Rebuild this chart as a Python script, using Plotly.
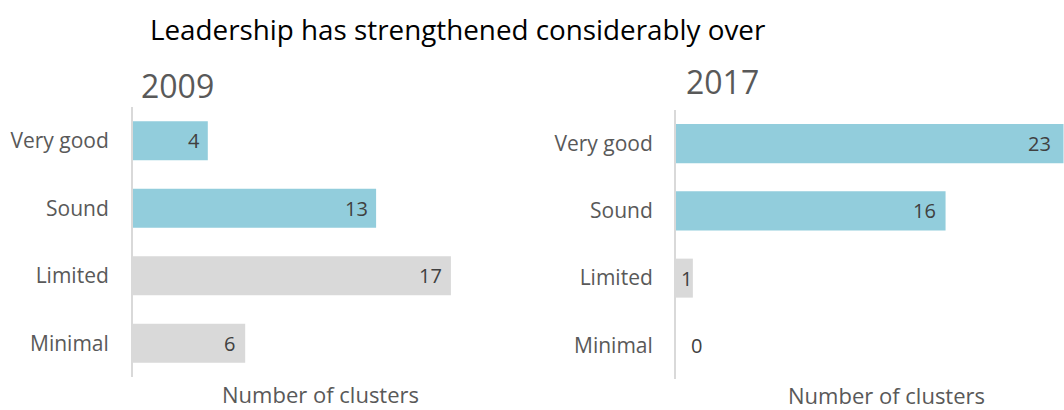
import plotly.graph_objects as go

# Leadership ratings per cluster, two survey years
categories = ["Very good", "Sound", "Limited", "Minimal"]
counts_2009 = [4, 13, 17, 6]
counts_2017 = [23, 16, 1, 0]
years = ["2009", "2017"]
axis_title = "Number of clusters"
chart_title = "Leadership has strengthened considerably over"

BLUE = "#92CDDC"
GREY = "#D9D9D9"
bar_colors = [BLUE, BLUE, GREY, GREY]
FONT = "Open Sans"
W, H = 1064, 410


def px_x(p):
    return p / W


def px_y(p):
    return 1 - p / H


fig = go.Figure()

fig.add_trace(go.Bar(
    x=counts_2009, y=categories, orientation="h",
    marker=dict(color=bar_colors, line=dict(width=0)),
    xaxis="x", yaxis="y", hoverinfo="skip", showlegend=False,
))
fig.add_trace(go.Bar(
    x=counts_2017, y=categories, orientation="h",
    marker=dict(color=bar_colors, line=dict(width=0)),
    xaxis="x2", yaxis="y2", hoverinfo="skip", showlegend=False,
))

yaxis_common = dict(
    categoryorder="array", categoryarray=categories, autorange="reversed",
    showline=True, linecolor="#D9D9D9", linewidth=2,
    showgrid=False, zeroline=False, ticks="",
    tickfont=dict(family=FONT, size=21, color="#595959"),
    fixedrange=True,
)
xaxis_common = dict(
    showgrid=False, zeroline=False, showline=False,
    showticklabels=False, ticks="", fixedrange=True,
)

fig.update_layout(
    width=W, height=H,
    margin=dict(l=0, r=0, t=0, b=0),
    paper_bgcolor="white", plot_bgcolor="white",
    bargap=0.42,
    xaxis=dict(domain=[px_x(133), px_x(507)], range=[0, 20], anchor="y", **xaxis_common),
    yaxis=dict(domain=[px_y(377), px_y(107)], anchor="x", ticklabelstandoff=18, **yaxis_common),
    xaxis2=dict(domain=[px_x(676), 1.0], range=[0, 23.03], anchor="y2", **xaxis_common),
    yaxis2=dict(domain=[px_y(379), px_y(110)], anchor="x2", ticklabelstandoff=17, **yaxis_common),
)

annotations = []

# value labels at the end of each bar
value_font = dict(family=FONT, size=20, color="#404040")
label_shift_2009 = [-6, -6, -7, -8]
label_shift_2017 = [-10, -8, 1, 28]
for vals, shifts, xa, ya in ((counts_2009, label_shift_2009, "x", "y"),
                             (counts_2017, label_shift_2017, "x2", "y2")):
    for cat, v, s in zip(categories, vals, shifts):
        annotations.append(dict(
            x=v, y=cat, xref=xa, yref=ya, text=str(v),
            xanchor="right", yanchor="middle", xshift=s, yshift=0,
            showarrow=False, font=value_font,
        ))

# year headings
annotations.append(dict(x=px_x(139), y=px_y(86), xref="paper", yref="paper",
                        text=years[0], xanchor="left", yanchor="middle",
                        showarrow=False, font=dict(family=FONT, size=32, color="#595959")))
annotations.append(dict(x=px_x(684), y=px_y(82), xref="paper", yref="paper",
                        text=years[1], xanchor="left", yanchor="middle",
                        showarrow=False, font=dict(family=FONT, size=32, color="#595959")))

# axis titles
for cx, cy in ((320, 394), (886.5, 394.5)):
    annotations.append(dict(x=px_x(cx), y=px_y(cy), xref="paper", yref="paper",
                            text=axis_title, xanchor="center", yanchor="middle",
                            borderpad=0,
                            showarrow=False, font=dict(family=FONT, size=22, color="#595959")))

# chart title
annotations.append(dict(x=px_x(457.5), y=px_y(29), xref="paper", yref="paper",
                        text=chart_title, xanchor="center", yanchor="middle",
                        showarrow=False, font=dict(family=FONT, size=27.8, color="#000000")))

fig.update_layout(annotations=annotations)

fig.write_html("out.html")
